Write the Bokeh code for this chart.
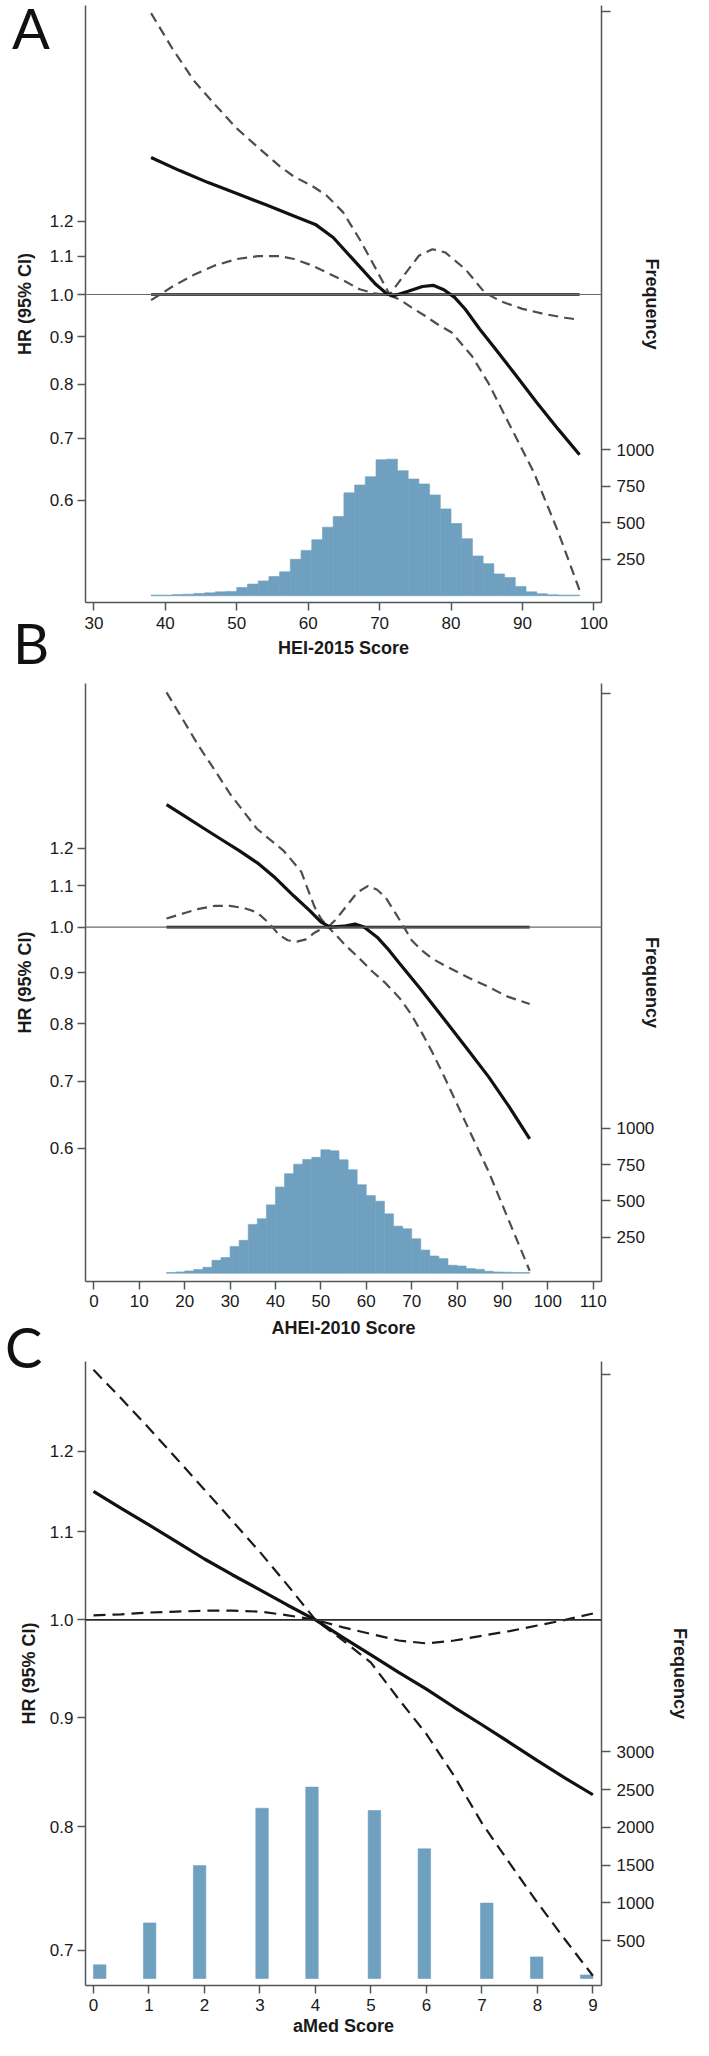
import math
from bokeh.plotting import figure
from bokeh.models import (Range1d, LinearScale, LinearAxis, FixedTicker,
                          PrintfTickFormatter, Span, Div)
from bokeh.layouts import column
from bokeh.embed import file_html
from bokeh.resources import INLINE

FONT = "Liberation Sans"
LETTER_FONT = "Lato"

# ---------------- Panel A : HEI-2015 ----------------
hei_solid_x = [38, 42, 46, 50, 54, 58, 61, 63.5, 66, 68, 69.5, 71, 72, 74, 76, 77.5,
               79, 80.5, 82, 84, 86, 89, 92, 95, 98]
hei_solid_hr = [1.405, 1.36, 1.32, 1.285, 1.25, 1.215, 1.19, 1.152, 1.097, 1.055, 1.025,
                1.002, 0.997, 1.008, 1.020, 1.023, 1.012, 0.993, 0.964, 0.918, 0.878,
                0.820, 0.765, 0.716, 0.672]
hei_upper_x = [38, 41, 44, 47, 50, 53, 56, 58, 60.5, 62.6, 64.9, 67.2, 69.5, 71.4, 73.7,
               75.5, 77.4, 79.2, 82, 84.7, 87, 90, 93, 96, 98]
hei_upper_hr = [2.01, 1.84, 1.70, 1.60, 1.51, 1.44, 1.375, 1.34, 1.31, 1.278, 1.226, 1.147,
                1.065, 1.0, 1.056, 1.101, 1.119, 1.110, 1.065, 1.005, 0.983, 0.965, 0.953,
                0.944, 0.939]
hei_lower_x = [38, 41, 44, 47, 50, 53, 56, 58, 60.5, 62.6, 65, 67.2, 69.5, 71, 72.8, 74.5,
               76.4, 78, 80.1, 82.9, 85.3, 88, 91.6, 95, 98]
hei_lower_hr = [0.986, 1.02, 1.05, 1.075, 1.092, 1.10, 1.10, 1.092, 1.075, 1.056, 1.035,
                1.013, 1.002, 1.0, 0.988, 0.968, 0.948, 0.93, 0.910, 0.859, 0.801, 0.729,
                0.643, 0.555, 0.48]
hei_hist_start = 38
hei_hist_width = 1.5
hei_hist_counts = [5, 5, 9, 11, 16, 20, 27, 30, 57, 80, 102, 132, 164, 250, 311, 384, 470,
                   543, 705, 759, 816, 932, 936, 857, 800, 766, 691, 595, 495, 391, 273,
                   220, 150, 125, 64, 27, 14, 7, 5, 5]
hei_x_ticks = [30, 40, 50, 60, 70, 80, 90, 100]

# ---------------- Panel B : AHEI-2010 ----------------
ahei_solid_x = [16, 20, 24, 28, 32, 36, 40, 44, 47.6, 50, 52, 55, 57.5, 59.5, 62.4, 65,
                67.3, 72, 77, 82, 87, 91.5, 96]
ahei_solid_hr = [1.327, 1.292, 1.258, 1.225, 1.193, 1.16, 1.12, 1.075, 1.038, 1.012, 1.0,
                 1.002, 1.007, 1.0, 0.977, 0.948, 0.920, 0.866, 0.810, 0.757, 0.707,
                 0.660, 0.613]
ahei_upper_x = [16, 19.5, 23.1, 26.5, 30, 33, 35.9, 38.8, 41.7, 43.5, 45.7, 47, 48.6, 50,
                51.6, 53.5, 55.5, 58, 60.4, 62.4, 64.3, 66.3, 68.3, 70, 72.2, 74.5, 77.1,
                82, 86.9, 91, 96]
ahei_upper_hr = [1.72, 1.618, 1.519, 1.44, 1.36, 1.306, 1.255, 1.224, 1.194, 1.168, 1.136,
                 1.095, 1.048, 1.02, 1.0, 1.02, 1.048, 1.083, 1.10, 1.09, 1.07, 1.035, 1.0,
                 0.97, 0.948, 0.93, 0.916, 0.892, 0.871, 0.852, 0.837]
ahei_lower_x = [16, 20, 23.1, 26.5, 30, 33, 35.9, 38.5, 40.8, 42.7, 44.7, 46.7, 48.6, 50,
                51.6, 53.5, 55.5, 58.5, 61.4, 64.3, 67.3, 69.7, 72.2, 74.6, 77.1, 82,
                86.9, 91.3, 96]
ahei_lower_hr = [1.02, 1.033, 1.043, 1.05, 1.05, 1.045, 1.035, 1.01, 0.982, 0.97, 0.967,
                 0.972, 0.987, 0.995, 1.0, 0.98, 0.958, 0.93, 0.902, 0.878, 0.849, 0.82,
                 0.784, 0.748, 0.709, 0.635, 0.569, 0.509, 0.452]
ahei_hist_start = 16
ahei_hist_width = 2
ahei_hist_counts = [5, 9, 16, 25, 41, 89, 108, 185, 227, 337, 376, 472, 595, 687, 753, 785,
                    800, 852, 845, 783, 714, 611, 536, 497, 410, 325, 307, 238, 160, 119,
                    101, 55, 50, 32, 27, 14, 9, 7, 5, 5]
ahei_x_ticks = [0, 10, 20, 30, 40, 50, 60, 70, 80, 90, 100, 110]

# ---------------- Panel C : aMed ----------------
amed_x = [0, 0.5, 1, 1.5, 2, 2.5, 3, 3.5, 4, 4.5, 5, 5.5, 6, 6.5, 7, 7.5, 8, 8.5, 9]
amed_solid_hr = [1.149, 1.128, 1.108, 1.088, 1.068, 1.050, 1.033, 1.016, 1.0, 0.981, 0.963,
                 0.945, 0.928, 0.910, 0.893, 0.876, 0.859, 0.843, 0.828]
amed_ci1_hr = [1.31, 1.27, 1.23, 1.19, 1.151, 1.113, 1.076, 1.038, 1.0, 0.978, 0.955, 0.918,
               0.884, 0.845, 0.803, 0.769, 0.737, 0.708, 0.681]
amed_ci2_hr = [1.005, 1.006, 1.008, 1.009, 1.01, 1.01, 1.009, 1.005, 1.0, 0.992, 0.985,
               0.978, 0.975, 0.978, 0.983, 0.988, 0.994, 1.0, 1.007]
amed_scores = [0, 1, 2, 3, 4, 5, 6, 7, 8, 9]
amed_counts = [181, 736, 1495, 2255, 2535, 2225, 1717, 999, 286, 47]
amed_hist_bins = 40
amed_x_ticks = [0, 1, 2, 3, 4, 5, 6, 7, 8, 9]

hr_ticks_ab = [0.6, 0.7, 0.8, 0.9, 1.0, 1.1, 1.2]
hr_ticks_c = [0.7, 0.8, 0.9, 1.0, 1.1, 1.2]
freq_ticks_ab = [250, 500, 750, 1000]
freq_top_ab = 4000
freq_ticks_c = [500, 1000, 1500, 2000, 2500, 3000]
freq_top_c = 8000
panel_letters = ["A", "B", "C"]

AXIS_COLOR = "#4f5858"
TEXT_COLOR = "#1a1a1a"
BAR_FILL = "#6fa0bf"


def make_panel(height, borders, xr, yr, fr, xticks, hr_ticks, fticks, ftop, xlabel,
               left_std, right_std, bottom_lab_std, bottom_std):
    top, bottom, left, right = borders
    p = figure(width=693, height=height, y_axis_type="log",
               x_range=Range1d(*xr), y_range=Range1d(*yr),
               output_backend="svg", toolbar_location=None,
               min_border_top=top, min_border_bottom=bottom,
               min_border_left=left, min_border_right=right)
    p.outline_line_color = None
    p.xgrid.visible = False
    p.ygrid.visible = False
    p.background_fill_color = "white"
    p.border_fill_color = "white"
    p.extra_y_ranges = {"freq": Range1d(*fr)}
    p.extra_y_scales = {"freq": LinearScale()}

    for ax in (p.xaxis[0], p.yaxis[0]):
        ax.axis_line_color = AXIS_COLOR
        ax.axis_line_width = 1.5
        ax.major_tick_line_color = AXIS_COLOR
        ax.major_tick_line_width = 1.5
        ax.major_tick_out = 8
        ax.major_tick_in = 0
        ax.minor_tick_line_color = None
        ax.major_label_text_font = FONT
        ax.major_label_text_font_size = "17px"
        ax.major_label_text_color = TEXT_COLOR
        ax.axis_label_text_font = FONT
        ax.axis_label_text_font_size = "18px"
        ax.axis_label_text_font_style = "bold"
        ax.axis_label_text_color = TEXT_COLOR

    p.xaxis.ticker = FixedTicker(ticks=xticks)
    p.xaxis.axis_label = xlabel
    p.xaxis.major_label_standoff = bottom_lab_std
    p.xaxis.axis_label_standoff = bottom_std

    p.yaxis.ticker = FixedTicker(ticks=hr_ticks)
    p.yaxis.formatter = PrintfTickFormatter(format="%.1f")
    p.yaxis.axis_label = "HR (95% CI)"
    p.yaxis.major_label_standoff = 4
    p.yaxis.axis_label_standoff = left_std

    rax = LinearAxis(y_range_name="freq", ticker=FixedTicker(ticks=fticks + [ftop]),
                     major_label_overrides={ftop: ""}, axis_label="Frequency")
    rax.axis_line_color = AXIS_COLOR
    rax.axis_line_width = 1.5
    rax.major_tick_line_color = AXIS_COLOR
    rax.major_tick_line_width = 1.5
    rax.major_tick_out = 9
    rax.major_tick_in = 0
    rax.minor_tick_line_color = None
    rax.major_label_text_font = FONT
    rax.major_label_text_font_size = "17px"
    rax.major_label_text_color = TEXT_COLOR
    rax.major_label_standoff = 6
    rax.axis_label_text_font = FONT
    rax.axis_label_text_font_size = "18px"
    rax.axis_label_text_font_style = "bold"
    rax.axis_label_text_color = TEXT_COLOR
    rax.axis_label_standoff = right_std
    p.add_layout(rax, "right")
    return p


def add_hist(p, lefts, width, counts):
    p.quad(left=lefts, right=[l + width for l in lefts], bottom=[0] * len(counts),
           top=counts, y_range_name="freq", fill_color=BAR_FILL, line_color=BAR_FILL,
           line_width=0.6)


def add_curves(p, sx, sy, ux, uy, lx, ly, dash_color, dash, ref_line=True):
    p.add_layout(Span(location=1.0, dimension="width", line_color="#6a6a6a",
                      line_width=1.2))
    if ref_line:
        p.line([sx[0], sx[-1]], [1.0, 1.0], line_color="#111111", line_width=2.6)
    p.line(ux, uy, line_color=dash_color, line_width=2.2, line_dash=dash)
    p.line(lx, ly, line_color=dash_color, line_width=2.2, line_dash=dash)
    p.line(sx, sy, line_color="#111111", line_width=3.2)


LETTER_BOX = 68


def letter_div(text, margin):
    # overlaid panel letter; net layout height is zero (negative margins)
    return Div(text=text, width=56, height=LETTER_BOX, margin=margin,
               styles={"font-family": LETTER_FONT, "font-size": "56px",
                       "line-height": "%dpx" % LETTER_BOX, "color": "#111111",
                       "white-space": "nowrap"})


# Panel A  (page y 8 .. 676)
pa = make_panel(668, (5, 66, 81, 90), (28.82, 101.07), (0.4657, 2.0485), (-46, 4043),
                hei_x_ticks, hr_ticks_ab, freq_ticks_ab, freq_top_ab, "HEI-2015 Score",
                left_std=12, right_std=-15, bottom_lab_std=6, bottom_std=6)
hei_lefts = [hei_hist_start + i * hei_hist_width for i in range(len(hei_hist_counts))]
add_hist(pa, hei_lefts, hei_hist_width, hei_hist_counts)
add_curves(pa, hei_solid_x, hei_solid_hr, hei_upper_x, hei_upper_hr, hei_lower_x,
           hei_lower_hr, "#455050", "10 6")

# Panel B  (page y 676 .. 1350)
pb = make_panel(674, (15, 61, 81, 90), (-1.85, 111.82), (0.4409, 1.7556), (-57, 4070),
                ahei_x_ticks, hr_ticks_ab, freq_ticks_ab, freq_top_ab, "AHEI-2010 Score",
                left_std=12, right_std=-15, bottom_lab_std=5, bottom_std=8)
ahei_lefts = [ahei_hist_start + i * ahei_hist_width for i in range(len(ahei_hist_counts))]
add_hist(pb, ahei_lefts, ahei_hist_width, ahei_hist_counts)
add_curves(pb, ahei_solid_x, ahei_solid_hr, ahei_upper_x, ahei_upper_hr, ahei_lower_x,
           ahei_lower_hr, "#455050", "10 6")

# Panel C  (page y 1350 .. 2048)
pc = make_panel(698, (19, 55, 85, 91), (-0.144, 9.155), (0.6739, 1.3218), (-93, 8172),
                amed_x_ticks, hr_ticks_c, freq_ticks_c, freq_top_c, "aMed Score",
                left_std=8, right_std=13, bottom_lab_std=5, bottom_std=2)
amed_bw = 9 / amed_hist_bins
amed_lefts = [min(int(s / amed_bw), amed_hist_bins - 1) * amed_bw for s in amed_scores]
add_hist(pc, amed_lefts, amed_bw, amed_counts)
pc.add_layout(Span(location=1.0, dimension="width", line_color="#2a2a2a", line_width=1.6))
pc.line(amed_x, amed_ci1_hr, line_color="#1a1a1a", line_width=2.2, line_dash="12 7")
pc.line(amed_x, amed_ci2_hr, line_color="#1a1a1a", line_width=2.2, line_dash="12 7")
pc.line(amed_x, amed_solid_hr, line_color="#111111", line_width=3.2)

# letters: margins (top, right, bottom, left); comments give page y of box top
la = letter_div(panel_letters[0], (2 - 676, 0, 676 - 2 - LETTER_BOX, 12))         # 2
lb = letter_div(panel_letters[1], (617 - 676, 0, 676 - 617 - LETTER_BOX, 13))     # 617
lc = letter_div(panel_letters[2], (1321 - 2048, 0, 2048 - 1321 - LETTER_BOX, 5))  # 1321

layout = column(pa, la, lb, pb, pc, lc, spacing=0)
open("out.html", "w").write(file_html(layout, INLINE))
